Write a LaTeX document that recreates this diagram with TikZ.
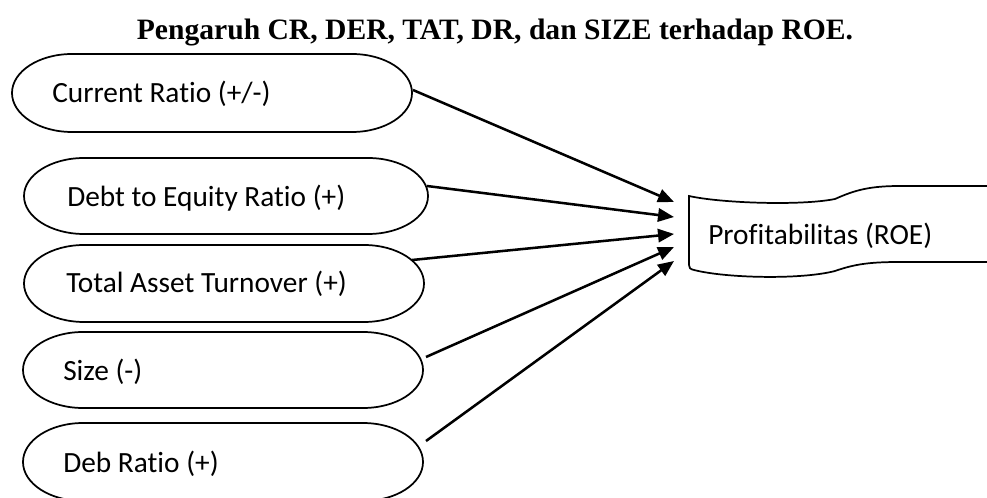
\documentclass[tikz,border=0pt]{standalone}
\usepackage{fontspec}
\setmainfont{Liberation Serif}
\newfontfamily\labelfont[Ligatures=NoCommon]{Carlito}
\usetikzlibrary{arrows.meta}
\tikzset{
  outline/.style={draw=black, line width=1.3pt},
  lbl/.style={font=\labelfont\fontsize{22pt}{24pt}\selectfont, inner sep=0pt, anchor=base west},
  arr/.style={draw=black, line width=1.9pt, -{Triangle[length=12pt,width=10pt]}},
}
% #1 left x, #2 top y, #3 right x, #4 bottom y ; elliptical ends, x radius 60
\newcommand\capsuleshape[4]{%
  \pgfmathsetmacro\capmid{(#2+#4)/2}%
  \pgfmathsetmacro\capk{0.5523*(#4-#2)/2}%
  \draw[outline] (#1+60,#2) -- (#3-60,#2)
    .. controls (#3-26.9,#2) and (#3,\capmid-\capk) .. (#3,\capmid)
    .. controls (#3,\capmid+\capk) and (#3-26.9,#4) .. (#3-60,#4)
    -- (#1+60,#4)
    .. controls (#1+26.9,#4) and (#1,\capmid+\capk) .. (#1,\capmid)
    .. controls (#1,\capmid-\capk) and (#1+26.9,#2) .. (#1+60,#2) -- cycle;}
\begin{document}
\begin{tikzpicture}[x=0.75pt, y=-0.75pt]
\useasboundingbox (0,0) rectangle (987,498);
\clip (0,0) rectangle (987,498);
% title
\node[font=\bfseries\fontsize{22.2pt}{26pt}\selectfont, inner sep=0pt, anchor=base] (title) at (495,40) {Pengaruh CR, DER, TAT, DR, dan SIZE terhadap ROE.};
% capsules
\capsuleshape{12}{54}{412}{132}
\node[lbl] (cr) at (52,103) {Current Ratio (+/-)};
\capsuleshape{24}{158}{428}{234}
\node[lbl] (der) at (67,207) {Debt to Equity Ratio (+)};
\capsuleshape{24}{245}{424}{322}
\node[lbl] (tat) at (66,293) {Total Asset Turnover (+)};
\capsuleshape{23}{332}{423}{408}
\node[lbl] (size) at (63,380) {Size (-)};
\capsuleshape{23}{423}{423}{501}
\node[lbl] (dr) at (63,472) {Deb Ratio (+)};
% ROE shape
\draw[outline] (995,186) -- (900,186)
  .. controls (870,186) and (855,190) .. (835,199)
  .. controls (800,206) and (720,203) .. (689,196)
  -- (689,265) .. controls (689,268) and (690,269) .. (694,270)
  .. controls (725,278) and (800,280) .. (835,271)
  .. controls (855,264) and (870,262) .. (900,262) -- (995,262);
\node[lbl] (roe) at (708,245) {Profitabilitas (ROE)};
% connector end points
\coordinate (crs) at (413,90);
\coordinate (ders) at (427,186);
\coordinate (tats) at (412,260);
\coordinate (sizes) at (426,357);
\coordinate (drs) at (426,441);
\coordinate (roe1) at (674,202);
\coordinate (roe2) at (674,217);
\coordinate (roe3) at (674,234);
\coordinate (roe4) at (674,247);
\coordinate (roe5) at (674,261);
\draw[arr] (crs) -- (roe1);
\draw[arr] (ders) -- (roe2);
\draw[arr] (tats) -- (roe3);
\draw[arr] (sizes) -- (roe4);
\draw[arr] (drs) -- (roe5);
\end{tikzpicture}
\end{document}
